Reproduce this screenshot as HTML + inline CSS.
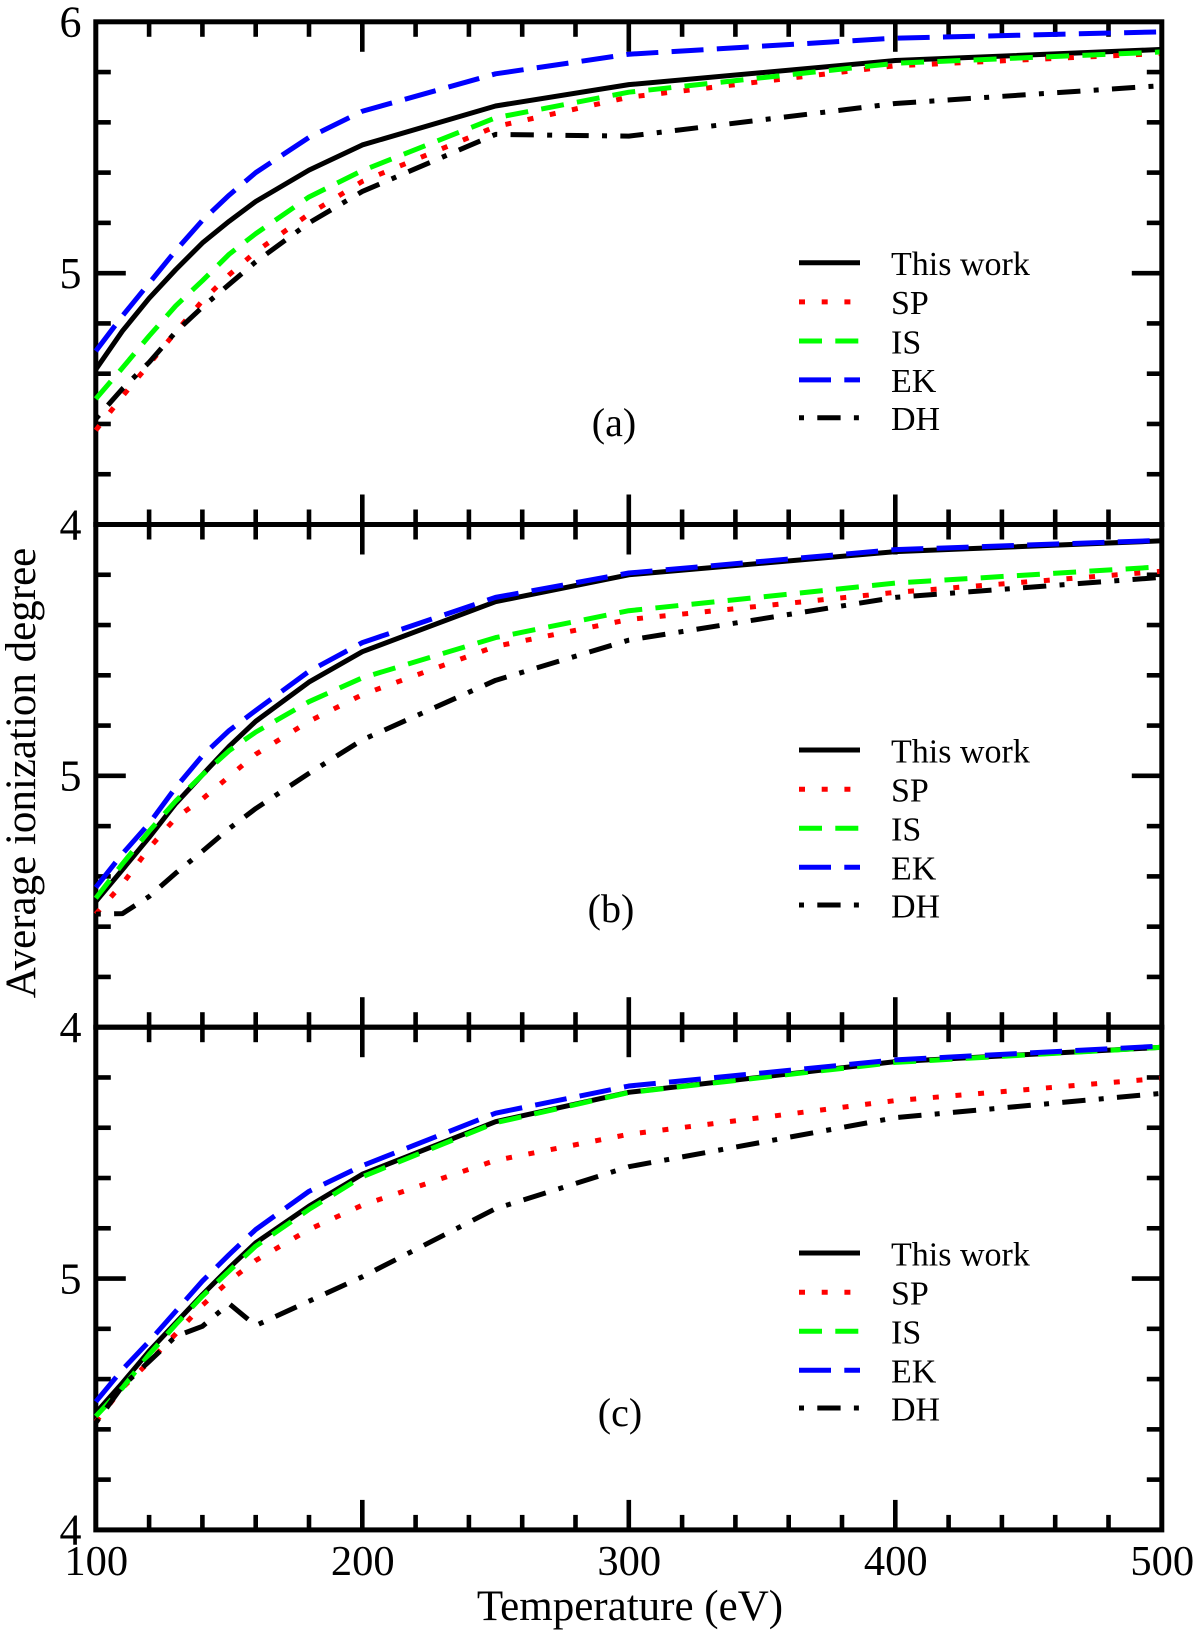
<!DOCTYPE html>
<html lang="en">
<head>
<meta charset="utf-8">
<title>Average ionization degree vs temperature</title>
<style>
html,body{margin:0;padding:0;background:#fff;}
svg{display:block;}
text{font-family:"Liberation Serif",serif;fill:#000;}
</style>
</head>
<body>
<svg id="chart" width="1200" height="1646" viewBox="0 0 1200 1646" xmlns="http://www.w3.org/2000/svg">
<defs><clipPath id="plot-clip"><rect x="93" y="0" width="1066.5" height="1646"></rect></clipPath></defs>
<rect x="0" y="0" width="1200" height="1646" fill="#fff"></rect>
<g id="layer-axes"></g>
<g id="layer-series" clip-path="url(#plot-clip)"></g>
<g id="layer-legend"></g>
<g id="layer-labels"></g>
<text transform="translate(35,773) rotate(-90)" text-anchor="middle" font-size="43">Average ionization degree</text>
<text x="630" y="1620" text-anchor="middle" font-size="43">Temperature (eV)</text>
</svg>
<script>
const temperatures = [100,110,120,130,140,150,160,180,200,250,300,400,500];

const panelAThisWork = [4.617,4.77,4.90,5.014,5.12,5.206,5.285,5.41,5.51,5.665,5.75,5.846,5.89];
const panelASP = [4.375,4.51,4.638,4.766,4.89,4.993,5.085,5.235,5.365,5.583,5.70,5.825,5.874];
const panelAIS = [4.50,4.623,4.75,4.87,4.97,5.075,5.157,5.303,5.408,5.618,5.72,5.835,5.88];
const panelAEK = [4.69,4.83,4.96,5.09,5.21,5.31,5.40,5.54,5.644,5.793,5.871,5.935,5.96];
const panelADH = [4.42,4.54,4.645,4.766,4.865,4.955,5.045,5.20,5.325,5.552,5.545,5.675,5.746];

const panelBThisWork = [4.50,4.627,4.755,4.89,5.004,5.117,5.217,5.373,5.494,5.693,5.80,5.892,5.935];
const panelBSP = [4.45,4.57,4.712,4.833,4.908,4.997,5.086,5.217,5.323,5.515,5.622,5.73,5.814];
const panelBIS = [4.513,4.65,4.78,4.90,5.004,5.10,5.174,5.295,5.39,5.55,5.657,5.767,5.832];
const panelBEK = [4.556,4.69,4.81,4.954,5.08,5.18,5.26,5.416,5.53,5.71,5.807,5.90,5.937];
const panelBDH = [4.45,4.452,4.52,4.613,4.70,4.79,4.87,5.01,5.143,5.38,5.54,5.71,5.79];

const panelCThisWork = [4.465,4.585,4.711,4.824,4.936,5.042,5.142,5.288,5.415,5.624,5.741,5.863,5.92];
const panelCSP = [4.43,4.565,4.668,4.78,4.894,4.99,5.072,5.195,5.292,5.47,5.574,5.708,5.797];
const panelCIS = [4.452,4.565,4.698,4.817,4.93,5.03,5.129,5.275,5.405,5.62,5.74,5.86,5.92];
const panelCEK = [4.51,4.638,4.75,4.87,4.99,5.095,5.195,5.347,5.449,5.658,5.766,5.87,5.925];
const panelCDH = [4.426,4.572,4.67,4.77,4.81,4.90,4.813,4.91,5.007,5.278,5.445,5.64,5.737];

const xMajorTicks = [100,200,300,400,500];
const xMinorTicks = [120,140,160,180,220,240,260,280,320,340,360,380,420,440,460,480];
const yMajorTicks = [4,5,6];
const yMinorTicks = [4.2,4.4,4.6,4.8,5.2,5.4,5.6,5.8];
const seriesNames = ["This work","SP","IS","EK","DH"];
const panelNames = ["a","b","c"];

const NS = "http://www.w3.org/2000/svg";
const axesLayer = document.getElementById("layer-axes");
const seriesLayer = document.getElementById("layer-series");
const legendLayer = document.getElementById("layer-legend");
const labelLayer = document.getElementById("layer-labels");

function xScale(t){ return 95.8 + (t - 100) * 2.665; }
function yScale(p, v){ return 21.8 + p * 502.7 + (6 - v) * 251.35; }

function makeLine(x1, y1, x2, y2, width){
  const el = document.createElementNS(NS, "line");
  el.setAttribute("x1", x1);
  el.setAttribute("y1", y1);
  el.setAttribute("x2", x2);
  el.setAttribute("y2", y2);
  el.setAttribute("stroke", "#000");
  el.setAttribute("stroke-width", width);
  return el;
}
function makeText(x, y, size, anchor, content){
  const el = document.createElementNS(NS, "text");
  el.setAttribute("x", x);
  el.setAttribute("y", y);
  el.setAttribute("font-size", size);
  el.setAttribute("text-anchor", anchor);
  el.textContent = content;
  return el;
}

const seriesStyles = [
  {color:"#000000", dash:"none"},
  {color:"#ff0000", dash:"6 16.7"},
  {color:"#00ff00", dash:"23 13.3"},
  {color:"#0000ff", dash:"32 13.3"},
  {color:"#000000", dash:"5 13.3 23.3 13.3"}
];
const panelSeries = [
  [panelAThisWork,panelASP,panelAIS,panelAEK,panelADH],
  [panelBThisWork,panelBSP,panelBIS,panelBEK,panelBDH],
  [panelCThisWork,panelCSP,panelCIS,panelCEK,panelCDH]
];
const legendTop = [262.7,750,1253];
const legendOffsets = [0,39.2,78.3,117.2,155];
const tagPlace = [{x:614,y:436},{x:611,y:922},{x:620,y:1426}];

panelSeries.forEach(function(list, p){
  const top = yScale(p, 6);
  const bottom = yScale(p, 4);

  xMajorTicks.slice(1, -1).forEach(function(t){
    const a = makeLine(xScale(t), top, xScale(t), top + 30, 4.6);
    
    
    axesLayer.appendChild(a);
    const b = makeLine(xScale(t), bottom, xScale(t), bottom - 30, 4.6);
    
    
    axesLayer.appendChild(b);
  });
  xMinorTicks.forEach(function(t){
    const a = makeLine(xScale(t), top, xScale(t), top + 15, 4.6);
    
    
    axesLayer.appendChild(a);
    const b = makeLine(xScale(t), bottom, xScale(t), bottom - 15, 4.6);
    
    
    axesLayer.appendChild(b);
  });
  yMajorTicks.slice(1, -1).forEach(function(v){
    const a = makeLine(xScale(100), yScale(p, v), xScale(100) + 30, yScale(p, v), 4.6);
    
    
    axesLayer.appendChild(a);
    const b = makeLine(xScale(500), yScale(p, v), xScale(500) - 30, yScale(p, v), 4.6);
    
    
    axesLayer.appendChild(b);
  });
  yMinorTicks.forEach(function(v){
    const a = makeLine(xScale(100), yScale(p, v), xScale(100) + 15, yScale(p, v), 4.6);
    
    
    axesLayer.appendChild(a);
    const b = makeLine(xScale(500), yScale(p, v), xScale(500) - 15, yScale(p, v), 4.6);
    
    
    axesLayer.appendChild(b);
  });

  const frame = document.createElementNS(NS, "rect");
  
  
  frame.setAttribute("x", xScale(100));
  frame.setAttribute("y", top);
  frame.setAttribute("width", xScale(500) - xScale(100));
  frame.setAttribute("height", bottom - top);
  frame.setAttribute("fill", "none");
  frame.setAttribute("stroke", "#000");
  frame.setAttribute("stroke-width", 5);
  axesLayer.appendChild(frame);

  list.forEach(function(values, s){
    const path = document.createElementNS(NS, "path");
    
    
    const d = values.map(function(v, i){
      return (i ? "L" : "M") + xScale(temperatures[i]).toFixed(2) + " " + yScale(p, v).toFixed(2);
    }).join(" ");
    path.setAttribute("d", d);
    path.setAttribute("fill", "none");
    path.setAttribute("stroke", seriesStyles[s].color);
    path.setAttribute("stroke-width", 5);
    path.setAttribute("stroke-linejoin", "round");
    if (seriesStyles[s].dash !== "none") path.setAttribute("stroke-dasharray", seriesStyles[s].dash);
    seriesLayer.appendChild(path);

    const ly = legendTop[p] + legendOffsets[s];
    const key = makeLine(799, ly, 860, ly, 5);
    
    
    key.setAttribute("stroke", seriesStyles[s].color);
    if (seriesStyles[s].dash !== "none") key.setAttribute("stroke-dasharray", seriesStyles[s].dash);
    legendLayer.appendChild(key);
    const label = makeText(891, ly + 12.3, 34, "start", seriesNames[s]);
    
    
    legendLayer.appendChild(label);
  });

  const tag = makeText(tagPlace[p].x, tagPlace[p].y, 40, "middle", "(" + panelNames[p] + ")");
  
  
  labelLayer.appendChild(tag);

  yMajorTicks.forEach(function(v){
    if (v === 6 && p > 0) return;
    const lab = makeText(81.5, yScale(p, v) + 14.8, 44, "end", String(v));
    
    
    labelLayer.appendChild(lab);
  });
});

xMajorTicks.forEach(function(t){
  const lab = makeText(xScale(t) + 0.5, 1575, 42.5, "middle", String(t));
  
  
  labelLayer.appendChild(lab);
});
</script>
</body>
</html>
